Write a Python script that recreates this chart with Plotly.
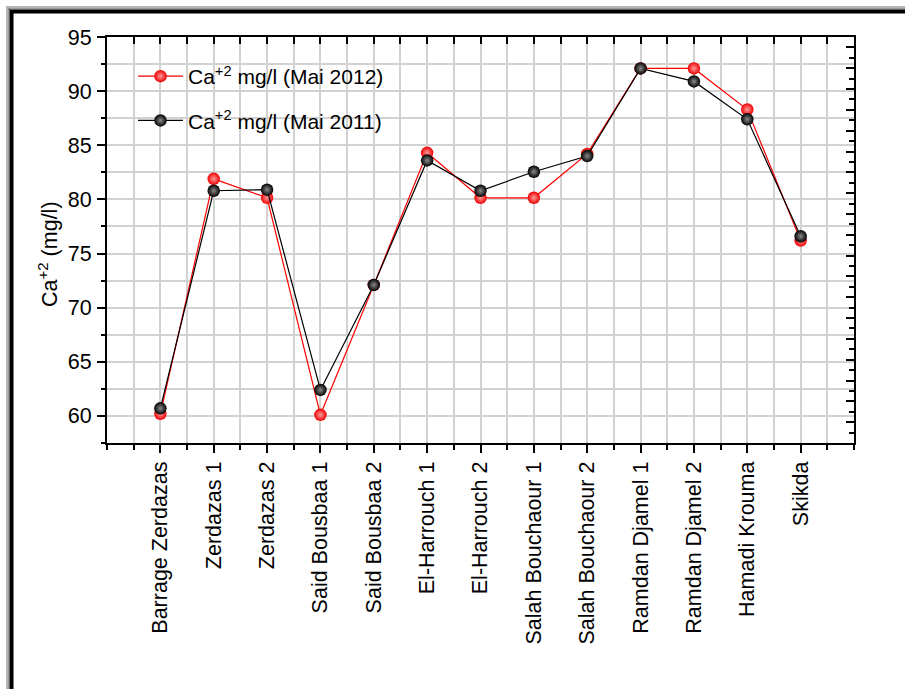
import plotly.graph_objects as go

# Sampling stations along the network
stations = [
    "Barrage Zerdazas", "Zerdazas 1", "Zerdazas 2", "Said Bousbaa 1",
    "Said Bousbaa 2", "El-Harrouch 1", "El-Harrouch 2", "Salah Bouchaour 1",
    "Salah Bouchaour 2", "Ramdan Djamel 1", "Ramdan Djamel 2",
    "Hamadi Krouma", "Skikda",
]
# Calcium concentration (mg/l)
ca_mai_2012 = [60.2, 81.9, 80.15, 60.1, 72.1, 84.3, 80.15, 80.15, 84.2, 92.1, 92.1, 88.3, 76.2]
ca_mai_2011 = [60.7, 80.8, 80.9, 62.4, 72.1, 83.6, 80.8, 82.55, 84.0, 92.1, 90.9, 87.4, 76.6]

y_ticks = [60, 65, 70, 75, 80, 85, 90, 95]

FONT = "Liberation Sans, Arial, sans-serif"

# Page / plot geometry (pixels)
W_PAGE, H_PAGE = 905, 689
L, T, R, B = 107, 37, 854, 443
PW, PH = R - L, B - T


def px(x):
    return (x - L) / PW


def py(y):
    return (B - y) / PH


xs = list(range(len(stations)))

fig = go.Figure()
fig.add_trace(go.Scatter(
    x=xs, y=ca_mai_2012, mode="lines+markers",
    name="Ca<sup>+2</sup> mg/l (Mai 2012)", legendgroup="a",
    line=dict(color="#ff0000", width=1.2),
    marker=dict(size=12.5, color="#f00000", line=dict(width=0),
                gradient=dict(type="radial", color="#ff9a9a")),
))
fig.add_trace(go.Scatter(
    x=xs, y=ca_mai_2011, mode="lines+markers",
    name="Ca<sup>+2</sup> mg/l (Mai 2011)", legendgroup="b",
    line=dict(color="#000000", width=1.2),
    marker=dict(size=12.5, color="#000000", line=dict(width=0),
                gradient=dict(type="radial", color="#8a8a8a")),
))

grid_col = "#d2d2d2"

fig.update_layout(
    width=W_PAGE, height=H_PAGE,
    margin=dict(l=L, r=W_PAGE - R, t=T, b=H_PAGE - B, pad=0),
    paper_bgcolor="white", plot_bgcolor="white",
    font=dict(family=FONT, size=21, color="black"),
    showlegend=True,
    legend=dict(
        x=px(133), y=py(56), xanchor="left", yanchor="top",
        bgcolor="rgba(0,0,0,0)", borderwidth=0,
        font=dict(family=FONT, size=21, color="black"),
        tracegroupgap=14, itemwidth=45,
    ),
    xaxis=dict(
        range=[-1, 13], tickmode="array", tickvals=xs, ticktext=stations,
        tickangle=-90, ticks="outside", ticklen=8, tickwidth=1.5,
        tickcolor="black", showline=True, linecolor="black", linewidth=2,
        showgrid=True, gridcolor=grid_col, gridwidth=1.5, zeroline=False,
        ticklabelstandoff=0,
        minor=dict(tickmode="linear", tick0=-1, dtick=0.5, ticks="outside",
                   ticklen=5, tickwidth=1.5, tickcolor="black",
                   showgrid=True, gridcolor=grid_col, gridwidth=1.5),
        tickfont=dict(family=FONT, size=21.5),
    ),
    yaxis=dict(
        range=[57.5, 95], tickmode="array", tickvals=y_ticks,
        ticks="outside", ticklen=8, tickwidth=1.5, tickcolor="black",
        showline=True, linecolor="black", linewidth=2,
        showgrid=True, gridcolor=grid_col, gridwidth=1.5, zeroline=False,
        ticklabelstandoff=1,
        minor=dict(tickmode="linear", tick0=57.5, dtick=2.5, ticks="outside",
                   ticklen=4, tickwidth=1.5, tickcolor="black",
                   showgrid=True, gridcolor=grid_col, gridwidth=1.5),
        tickfont=dict(family=FONT, size=21.5),
    ),
    # Mirror axes: top with inward ticks, right with its own inward tick scale
    xaxis2=dict(
        overlaying="x", side="top", anchor="y", range=[-1, 13],
        tickmode="linear", tick0=-1, dtick=0.5, ticks="inside", ticklen=7,
        tickwidth=1.5, tickcolor="black", showticklabels=False,
        showline=True, linecolor="black", linewidth=2, showgrid=False,
        zeroline=False,
    ),
    yaxis2=dict(
        overlaying="y", side="right", anchor="x", range=[0, 39],
        tickmode="linear", tick0=0, dtick=2, ticks="inside", ticklen=8,
        tickwidth=1.5, tickcolor="black", showticklabels=False,
        showline=True, linecolor="black", linewidth=2, showgrid=False,
        zeroline=False,
        minor=dict(tickmode="linear", tick0=0, dtick=1, ticks="inside",
                   ticklen=5, tickwidth=1.5, tickcolor="black"),
    ),
)

# Keep the mirror axes active
fig.add_trace(go.Scatter(x=[None], y=[None], xaxis="x2", yaxis="y2",
                         showlegend=False, hoverinfo="skip"))

# Y-axis title
fig.add_annotation(
    text="Ca<sup>+2</sup> (mg/l)", xref="paper", yref="paper",
    x=px(48), y=py(254), xanchor="center", yanchor="middle",
    textangle=-90, showarrow=False, font=dict(family=FONT, size=21.5),
)

shapes = []
# White panels behind the legend entries
for (x0, y0, x1, y1) in [(112, 52, 392, 94), (120, 103, 386, 140)]:
    shapes.append(dict(type="rect", xref="paper", yref="paper",
                       x0=px(x0), x1=px(x1), y0=py(y1), y1=py(y0),
                       fillcolor="white", line=dict(width=0), layer="between"))

# Page frame (top and left edges)
for (x0, y0, x1, y1, c) in [
    (6, 6, W_PAGE, 8.5, "#b4b4b4"), (6, 6, 8.5, H_PAGE, "#b4b4b4"),
    (8.5, 8.5, W_PAGE, 10, "#606060"), (8.5, 8.5, 10, H_PAGE, "#606060"),
    (10, 10, W_PAGE, 13.5, "#000000"), (10, 10, 13.5, H_PAGE, "#000000"),
]:
    shapes.append(dict(type="rect", xref="paper", yref="paper",
                       x0=px(x0), x1=px(x1), y0=py(y1), y1=py(y0),
                       fillcolor=c, line=dict(width=0), layer="above"))

fig.update_layout(shapes=shapes)

fig.write_html("out.html")
